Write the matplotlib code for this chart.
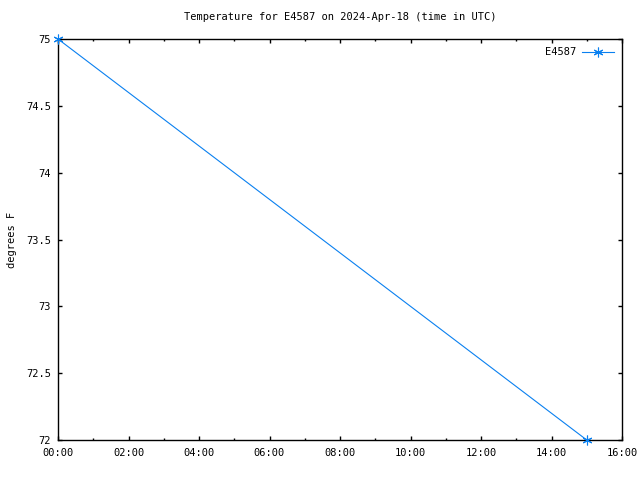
import matplotlib
matplotlib.use("Agg")
import matplotlib.pyplot as plt
from matplotlib.ticker import MultipleLocator, FuncFormatter

hours = [0.0, 15.0]
temps = [75.0, 72.0]
series_name = "E4587"
title = "Temperature for E4587 on 2024-Apr-18 (time in UTC)"
ylabel = "degrees F"

plt.rcParams['font.family'] = ['DejaVu Sans Mono']
plt.rcParams['font.size'] = 7

fig = plt.figure(figsize=(6.4, 4.8), dpi=100)
ax = fig.add_axes([58/640, 1-440/480, (622-58)/640, (440-39)/480])
color = '#0a80f0'
ax.plot(hours, temps, color=color, lw=0.8, marker=(6, 2, 0), ms=7, mew=0.8,
        label=series_name, clip_on=False, zorder=5)
ax.set_xlim(0, 16)
ax.set_ylim(72, 75)
ax.xaxis.set_major_locator(MultipleLocator(2))
ax.xaxis.set_minor_locator(MultipleLocator(1))
ax.yaxis.set_major_locator(MultipleLocator(0.5))
ax.xaxis.set_major_formatter(FuncFormatter(lambda v, p: "%02d:00" % int(round(v))))
ax.yaxis.set_major_formatter(FuncFormatter(lambda v, p: ("%g" % v)))
ax.tick_params(which='both', direction='in', top=True, right=True, width=1, colors='black', labelsize=7.5)
ax.tick_params(which='major', length=3, pad=6)
ax.tick_params(which='minor', length=1.5)
ax.tick_params(axis='y', pad=5)
for s in ax.spines.values():
    s.set_linewidth(1)
ax.set_title(title, fontsize=7.5, pad=14)
ax.set_ylabel(ylabel, fontsize=7.5)
ax.yaxis.set_label_coords(-41/564, 0.5)
leg = ax.legend(loc='upper right', frameon=False, markerfirst=False, handlelength=3.0,
                handletextpad=0.6, borderaxespad=0.4, fontsize=7.5, bbox_to_anchor=(1.0, 1.0))
fig.savefig("out.png", dpi=100)
